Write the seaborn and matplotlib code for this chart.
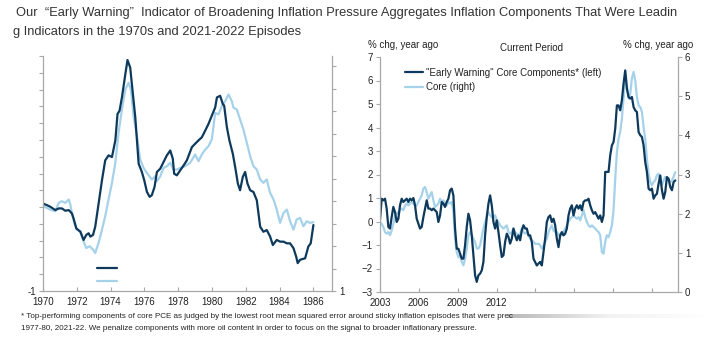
import numpy as np
import pandas as pd
import matplotlib
matplotlib.use("Agg")
import matplotlib.pyplot as plt
from matplotlib.lines import Line2D
import seaborn as sns

# ---------------- data ----------------
# 1970s episode: "Early Warning" components (left axis) and core PCE (right axis)
yrs70_ew = [1970.00, 1970.24, 1970.43, 1970.73, 1970.93, 1971.12, 1971.32, 1971.52, 1971.62, 1971.71,
            1971.81, 1971.97, 1972.21, 1972.40, 1972.56, 1972.70, 1972.80, 1972.96, 1973.09, 1973.29,
            1973.49, 1973.68, 1973.88, 1974.08, 1974.28, 1974.41, 1974.53, 1974.67, 1974.87, 1975.00,
            1975.16, 1975.28, 1975.46, 1975.66, 1975.85, 1975.99, 1976.15, 1976.31, 1976.44, 1976.60,
            1976.74, 1976.94, 1977.13, 1977.33, 1977.53, 1977.68, 1977.76, 1977.92, 1978.12, 1978.32,
            1978.51, 1978.81, 1979.00, 1979.20, 1979.40, 1979.60, 1979.79, 1979.99, 1980.19, 1980.29,
            1980.48, 1980.64, 1980.72, 1980.88, 1981.03, 1981.23, 1981.37, 1981.53, 1981.66, 1981.82,
            1981.96, 1982.10, 1982.26, 1982.45, 1982.65, 1982.85, 1983.04, 1983.24, 1983.44, 1983.60,
            1983.83, 1984.03, 1984.23, 1984.43, 1984.62, 1984.82, 1984.98, 1985.07, 1985.21, 1985.51,
            1985.70, 1985.84, 1986.00]
ew70 = [4.21, 4.11, 4.02, 3.82, 3.92, 3.92, 3.78, 3.82, 3.72, 3.62,
        3.32, 2.73, 2.53, 2.04, 2.34, 2.44, 2.24, 2.34, 2.83, 4.21,
        5.60, 6.78, 7.08, 6.98, 7.97, 9.55, 9.74, 10.53, 11.91, 12.76,
        12.31, 11.12, 9.35, 6.58, 6.09, 5.60, 4.90, 4.61, 4.71, 5.20,
        6.09, 6.29, 6.68, 7.08, 7.37, 6.88, 5.99, 5.89, 6.19, 6.48,
        6.78, 7.57, 7.77, 7.97, 8.16, 8.56, 8.95, 9.45, 9.94, 10.53,
        10.63, 10.14, 10.04, 8.76, 7.97, 7.18, 6.39, 5.40, 5.00, 5.79,
        6.09, 5.40, 5.00, 4.90, 4.41, 2.83, 2.53, 2.63, 2.24, 1.74,
        2.04, 1.94, 1.94, 1.84, 1.84, 1.55, 1.05, 0.66, 0.86, 0.95,
        1.65, 1.84, 2.93]

yrs70_core = [1970.00, 1970.24, 1970.53, 1970.73, 1970.93, 1971.12, 1971.32, 1971.52, 1971.62, 1971.71,
              1971.85, 1972.01, 1972.21, 1972.40, 1972.56, 1972.76, 1972.96, 1973.09, 1973.29, 1973.49,
              1973.68, 1973.88, 1974.08, 1974.28, 1974.47, 1974.67, 1974.87, 1975.06, 1975.20, 1975.36,
              1975.56, 1975.75, 1975.95, 1976.15, 1976.44, 1976.64, 1976.74, 1976.94, 1977.13, 1977.33,
              1977.53, 1977.72, 1977.92, 1978.12, 1978.41, 1978.71, 1979.00, 1979.20, 1979.40, 1979.60,
              1979.79, 1979.99, 1980.19, 1980.38, 1980.58, 1980.78, 1980.98, 1981.17, 1981.27, 1981.47,
              1981.66, 1981.86, 1982.06, 1982.26, 1982.45, 1982.65, 1982.85, 1983.04, 1983.24, 1983.44,
              1983.64, 1983.83, 1984.03, 1984.23, 1984.43, 1984.62, 1984.82, 1985.01, 1985.21, 1985.41,
              1985.61, 1985.80, 1986.00]
core70 = [4.77, 4.69, 4.59, 4.55, 4.92, 4.99, 4.92, 5.07, 4.84, 4.47,
          4.03, 3.73, 3.66, 3.21, 2.91, 2.99, 2.84, 2.69, 3.14, 3.73,
          4.32, 5.07, 5.81, 6.70, 8.03, 9.07, 9.96, 10.26, 9.96, 8.77,
          7.88, 6.85, 6.47, 6.25, 5.96, 6.10, 5.88, 6.10, 6.47, 6.55,
          6.70, 6.40, 6.40, 6.47, 6.55, 6.70, 7.07, 6.77, 7.07, 7.29,
          7.44, 7.74, 8.92, 8.85, 9.22, 9.44, 9.74, 9.44, 9.15, 9.07,
          8.63, 8.18, 7.59, 6.99, 6.55, 6.40, 5.96, 5.81, 5.96, 5.36,
          5.07, 4.62, 4.03, 4.47, 4.62, 4.10, 3.73, 4.18, 4.25, 3.88,
          4.10, 4.03, 4.06]

# Current period (2003 onward): "Early Warning" (left axis) and core (right axis)
ew_now = [0.05, 0.97, 0.90, 0.97, 0.55, -0.23, -0.30, 0.19, 0.62, 0.40,
          -0.02, 0.12, 0.69, 0.97, 0.83, 0.90, 0.97, 0.83, 0.97, 0.90,
          1.00, 0.69, 0.12, -0.09, -0.30, -0.23, 0.19, 0.55, 0.90, 0.55,
          0.55, 0.48, 0.55, 0.48, 0.40, -0.02, 0.26, 0.83, 0.76, 0.62,
          0.83, 0.97, 1.33, 1.40, 1.11, -0.30, -1.16, -1.16, -1.37, -1.58,
          -1.58, -1.01, -0.23, 0.33, 0.05, -0.59, -1.44, -2.29, -2.57, -2.29,
          -2.22, -2.08, -1.72, -0.59, 0.19, 0.76, 1.11, 0.69, -0.02, -0.30,
          0.05, -0.45, -1.01, -1.51, -1.44, -0.87, -0.52, -0.66, -0.94, -0.73,
          -0.30, -0.59, -0.80, -0.59, -0.80, -0.38, -0.16, -0.30, -0.30, -0.59,
          -0.59, -0.87, -1.58, -1.72, -1.87, -1.79, -1.72, -1.87, -1.30, -0.73,
          -0.02, 0.19, 0.26, -0.02, 0.12, -0.16, -0.73, -1.09, -0.59, -0.45,
          -0.59, -0.52, -0.30, 0.26, 0.55, 0.69, 0.26, 0.55, 0.69, 0.55,
          0.69, 0.48, 0.83, 0.90, 0.90, 0.97, 0.69, 0.48, 0.33, 0.40,
          0.26, 0.12, 0.26, -0.02, 0.26, 2.11, 2.11, 2.11, 2.82, 3.24,
          3.38, 3.95, 4.94, 4.94, 4.73, 5.16, 5.87, 6.43, 5.65, 5.30,
          5.23, 5.30, 4.87, 4.73, 4.66, 3.81, 3.67, 3.60, 3.24, 2.53,
          2.11, 1.40, 1.33, 1.40, 0.97, 1.11, 1.18, 1.61, 1.96, 1.33,
          0.97, 1.26, 1.89, 1.82, 1.47, 1.33, 1.68, 1.75]
core_now = [1.79, 1.74, 1.66, 1.53, 1.49, 1.53, 1.45, 1.57, 1.74, 1.96,
            2.00, 2.04, 2.09, 2.13, 2.09, 2.21, 2.26, 2.21, 2.26, 2.30,
            2.26, 2.21, 2.21, 2.30, 2.38, 2.47, 2.64, 2.68, 2.55, 2.38,
            2.47, 2.55, 2.34, 2.17, 2.21, 2.26, 2.38, 2.30, 2.34, 2.26,
            2.21, 2.30, 2.26, 2.30, 2.04, 1.36, 1.02, 0.89, 0.94, 0.77,
            0.68, 0.85, 1.11, 1.45, 1.53, 1.45, 1.36, 1.28, 1.11, 1.11,
            1.19, 1.40, 1.62, 1.79, 1.91, 2.04, 1.96, 1.91, 1.91, 1.96,
            1.83, 1.79, 1.70, 1.66, 1.62, 1.66, 1.70, 1.53, 1.49, 1.53,
            1.62, 1.53, 1.49, 1.45, 1.49, 1.62, 1.53, 1.49, 1.53, 1.45,
            1.36, 1.32, 1.28, 1.23, 1.23, 1.23, 1.19, 1.11, 1.19, 1.28,
            1.36, 1.53, 1.62, 1.70, 1.57, 1.53, 1.53, 1.45, 1.49, 1.45,
            1.53, 1.62, 1.70, 1.79, 1.87, 1.91, 1.96, 1.91, 1.87, 1.91,
            1.83, 1.96, 2.09, 1.91, 1.79, 1.70, 1.66, 1.70, 1.66, 1.62,
            1.57, 1.53, 1.45, 1.02, 0.98, 1.28, 1.45, 1.40, 1.53, 1.70,
            2.09, 2.89, 3.57, 3.91, 4.09, 4.43, 4.94, 5.57, 5.28, 4.94,
            5.06, 5.45, 5.62, 5.40, 4.98, 4.77, 4.72, 4.60, 4.21, 3.91,
            3.40, 3.02, 2.81, 2.72, 2.81, 2.85, 2.98, 3.02, 2.81, 2.72,
            2.85, 2.94, 2.89, 2.85, 2.81, 2.85, 2.94, 3.06]
now_start, now_end = 2003.0, 2025.79

x70_ticks = [1970, 1972, 1974, 1976, 1978, 1980, 1982, 1984, 1986]
xnow_ticks = [2003, 2006, 2009, 2012, 2015, 2018, 2021, 2024]
xnow_labels = ["2003", "2006", "2009", "2012", "", "", "", ""]
legend_labels = ['"Early Warning" Core Components* (left)', 'Core (right)']

title1 = "Our  \u201cEarly Warning\u201d  Indicator of Broadening Inflation Pressure Aggregates Inflation Components That Were Leadin"
title2 = "g Indicators in the 1970s and 2021-2022 Episodes"
foot1 = "* Top-performing components of core PCE as judged by the lowest root mean squared error around sticky inflation episodes that were prec"
foot2 = "1977-80, 2021-22. We penalize components with more oil content in order to focus on the signal to broader inflationary pressure."

# ---------------- style ----------------
DARK = "#0d3a5c"
LIGHT = "#a5d2ea"
SPINE = "#a8a8a8"
TXT = "#222222"
LW = 1.6

sns.set_theme(style="ticks")
plt.rcParams["font.family"] = ["Liberation Sans", "DejaVu Sans"]
plt.rcParams["text.color"] = TXT
plt.rcParams["xtick.color"] = SPINE
plt.rcParams["ytick.color"] = SPINE
plt.rcParams["xtick.labelcolor"] = TXT
plt.rcParams["ytick.labelcolor"] = TXT

W, H = 719, 339
fig = plt.figure(figsize=(W / 100, H / 100), dpi=100)

def fx(px):
    return px / W

def fy(py):
    return 1 - py / H

axL = fig.add_axes([fx(43), fy(291), fx(289), 235 / H])
axL2 = axL.twinx()
axR = fig.add_axes([fx(380), fy(292), fx(298), 235 / H])
axR2 = axR.twinx()

df70e = pd.DataFrame({"year": yrs70_ew, "val": ew70})
df70c = pd.DataFrame({"year": yrs70_core, "val": core70})
dfne = pd.DataFrame({"year": np.linspace(now_start, now_end, len(ew_now)), "val": ew_now})
dfnc = pd.DataFrame({"year": np.linspace(now_start, now_end, len(core_now)), "val": core_now})

sns.lineplot(data=df70c, x="year", y="val", ax=axL2, color=LIGHT, lw=LW)
sns.lineplot(data=df70e, x="year", y="val", ax=axL, color=DARK, lw=LW)
sns.lineplot(data=dfnc, x="year", y="val", ax=axR2, color=LIGHT, lw=LW)
sns.lineplot(data=dfne, x="year", y="val", ax=axR, color=DARK, lw=LW)

for a, a2 in [(axL, axL2), (axR, axR2)]:
    a.set_zorder(a2.get_zorder() + 1)
    a.patch.set_visible(False)
    for ax in (a, a2):
        ax.set_xlabel("")
        ax.set_ylabel("")
        ax.spines["top"].set_visible(False)
    a.spines["right"].set_visible(False)
    a2.spines["left"].set_visible(False)
    a2.spines["bottom"].set_visible(False)
    for s in ("left", "bottom"):
        a.spines[s].set_color(SPINE)
        a.spines[s].set_linewidth(0.9)
    a2.spines["right"].set_color(SPINE)
    a2.spines["right"].set_linewidth(0.9)
    a.tick_params(axis="y", direction="out", length=3, width=0.8, labelsize=7, pad=2, left=True)
    a.tick_params(axis="x", direction="in", length=3, width=0.8, labelsize=7, pad=4, bottom=True)
    a2.tick_params(axis="y", direction="out", length=3, width=0.8, labelsize=7, pad=2, right=True)

# left panel (1970s)
axL.set_xlim(1970, 1987.1)
axL.set_xticks(x70_ticks)
axL.set_xticklabels([str(t) for t in x70_ticks])
axL.set_ylim(-1, 13)
axL.set_yticks(range(-1, 14))
axL.set_yticklabels(["-1"] + [""] * 14)
axL2.set_ylim(1, 11.45)
axL2.set_yticks(range(1, 12))
axL2.set_yticklabels(["1"] + [""] * 10)
axL.legend(handles=[Line2D([], [], color=DARK, lw=LW), Line2D([], [], color=LIGHT, lw=LW)],
           labels=[" ", " "], loc="upper left", bbox_to_anchor=(0.187, 0.11),
           frameon=False, fontsize=6, handlelength=2.4, handletextpad=0.1,
           labelspacing=0.6, borderaxespad=0, borderpad=0)

# right panel (current period)
axR.set_xlim(2003, 2026)
axR.set_xticks(xnow_ticks)
axR.set_xticklabels(xnow_labels)
axR.set_ylim(-3, 7)
axR.set_yticks(range(-3, 8))
axR2.set_ylim(0, 6)
axR2.set_yticks(range(0, 7))
axR.legend(handles=[Line2D([], [], color=DARK, lw=LW), Line2D([], [], color=LIGHT, lw=LW)],
           labels=legend_labels, loc="upper left", bbox_to_anchor=(0.083, 0.955),
           frameon=False, fontsize=7, handlelength=1.9, handletextpad=0.25,
           labelspacing=0.45, borderaxespad=0, borderpad=0)

fig.text(fx(368), fy(45), "% chg, year ago", fontsize=7, ha="left", va="center")
fig.text(fx(693), fy(45), "% chg, year ago", fontsize=7, ha="right", va="center")
fig.text(fx(531), fy(48), "Current Period", fontsize=7, ha="center", va="center")

# titles and footnote, sized to fit the measured widths
def fit_text(x, y, s, target_w, family, size0, **kw):
    t = fig.text(x, y, s, fontsize=size0, family=family, **kw)
    fig.canvas.draw()
    w = t.get_window_extent().width
    t.set_fontsize(size0 * target_w / w)
    return t

narrow = ["Liberation Sans Narrow", "Liberation Sans", "DejaVu Sans"]
t1 = fit_text(fx(16), fy(16), title1, 666, narrow, 10, ha="left", va="baseline", color="#333333")
fig.text(fx(13), fy(35), title2, fontsize=t1.get_fontsize(), family=narrow,
         ha="left", va="baseline", color="#333333")
f2 = fit_text(fx(21), fy(328), foot2, 463, narrow, 6, ha="left", va="center", color=TXT)
fig.text(fx(21), fy(316), foot1, fontsize=f2.get_fontsize(), family=narrow,
         ha="left", va="center", color=TXT)

# faded bar at end of first footnote line
fade = fig.add_axes([fx(508), fy(318), fx(200), 4 / H])
grad = np.linspace(0.0, 1.0, 256)[None, :]
fade.imshow(grad, aspect="auto", cmap=matplotlib.colors.LinearSegmentedColormap.from_list(
    "fade", ["#b8b8b8", "#f2f2f2", "#ffffff"]), extent=[0, 1, 0, 1])
fade.set_axis_off()

fig.savefig("out.png", dpi=100)
